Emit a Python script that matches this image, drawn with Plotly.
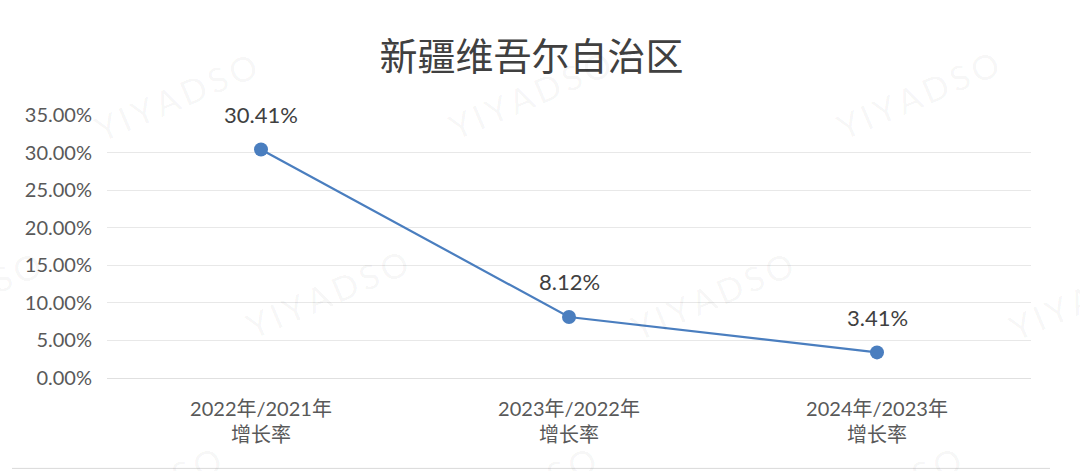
import plotly.graph_objects as go

title = "新疆维吾尔自治区"
categories = ["2022年/2021年<br>增长率", "2023年/2022年<br>增长率", "2024年/2023年<br>增长率"]
growth = [30.41, 8.12, 3.41]
value_labels = ["30.41%", "8.12%", "3.41%"]
y_ticks = [0, 5, 10, 15, 20, 25, 30, 35]
y_tick_labels = ["0.00%", "5.00%", "10.00%", "15.00%", "20.00%", "25.00%", "30.00%", "35.00%"]

FONT = "Lato, 'Noto Sans CJK SC', sans-serif"
LINE_COLOR = "#4a7ebf"

fig = go.Figure()
fig.add_trace(go.Scatter(
    x=categories, y=growth, mode="lines+markers",
    line=dict(color=LINE_COLOR, width=2.2),
    marker=dict(color=LINE_COLOR, size=14),
    hoverinfo="skip", showlegend=False,
))

for c, v, t in zip(categories, growth, value_labels):
    fig.add_annotation(x=c, y=v, text=t, showarrow=False, yshift=35,
                       font=dict(family=FONT, size=22, color="#404040"))

# faint watermarks
wm_text = "Y\u2009I\u2009Y\u2009A\u2009D\u2009S\u2009O"
wm_positions = [(176, 97), (530, 95), (918, 95),
                (-40, 295), (327, 293), (712, 295), (1090, 295),
                (140, 490), (515, 490), (880, 490)]
L, R, T, B = 107, 1031, 115, 377.7
for px, py in wm_positions:
    fig.add_annotation(
        x=(px - L) / (R - L), y=(B - py) / (B - T), xref="paper", yref="paper",
        xanchor="center", yanchor="middle",
        text=wm_text, showarrow=False, textangle=-23,
        font=dict(family="Lato, sans-serif", size=34, color="rgba(0,0,0,0.045)"),
    )

# bottom frame line
fig.add_shape(type="line", xref="paper", yref="paper",
              x0=(12 - L) / (R - L), x1=(1050 - L) / (R - L),
              y0=(B - 468) / (B - T), y1=(B - 468) / (B - T),
              line=dict(color="#d9d9d9", width=1))

fig.update_layout(
    width=1080, height=471,
    margin=dict(l=L, r=1080 - R, t=T, b=471 - B),
    paper_bgcolor="white", plot_bgcolor="white",
    title=dict(text=title, x=531.5 / 1080, xref="container", xanchor="center",
               y=1 - 57 / 471, yref="container", yanchor="middle",
               font=dict(family="'Noto Sans CJK SC', sans-serif", size=38, color="#404040")),
    xaxis=dict(range=[-0.5, 2.5], showgrid=False, showline=False, zeroline=False,
               ticks="", ticklabelstandoff=17,
               tickfont=dict(family=FONT, size=20, color="#595959")),
    yaxis=dict(range=[0, 35], tickvals=y_ticks, ticktext=y_tick_labels,
               showgrid=True, gridcolor="#e8e8e8", gridwidth=1,
               zeroline=True, zerolinecolor="#e0e0e0", zerolinewidth=1,
               showline=False, ticks="", ticklabelstandoff=14,
               tickfont=dict(family=FONT, size=20, color="#595959")),
)

fig.write_html("out.html", config={"displayModeBar": False},
               post_script="document.body.style.margin='0';")
